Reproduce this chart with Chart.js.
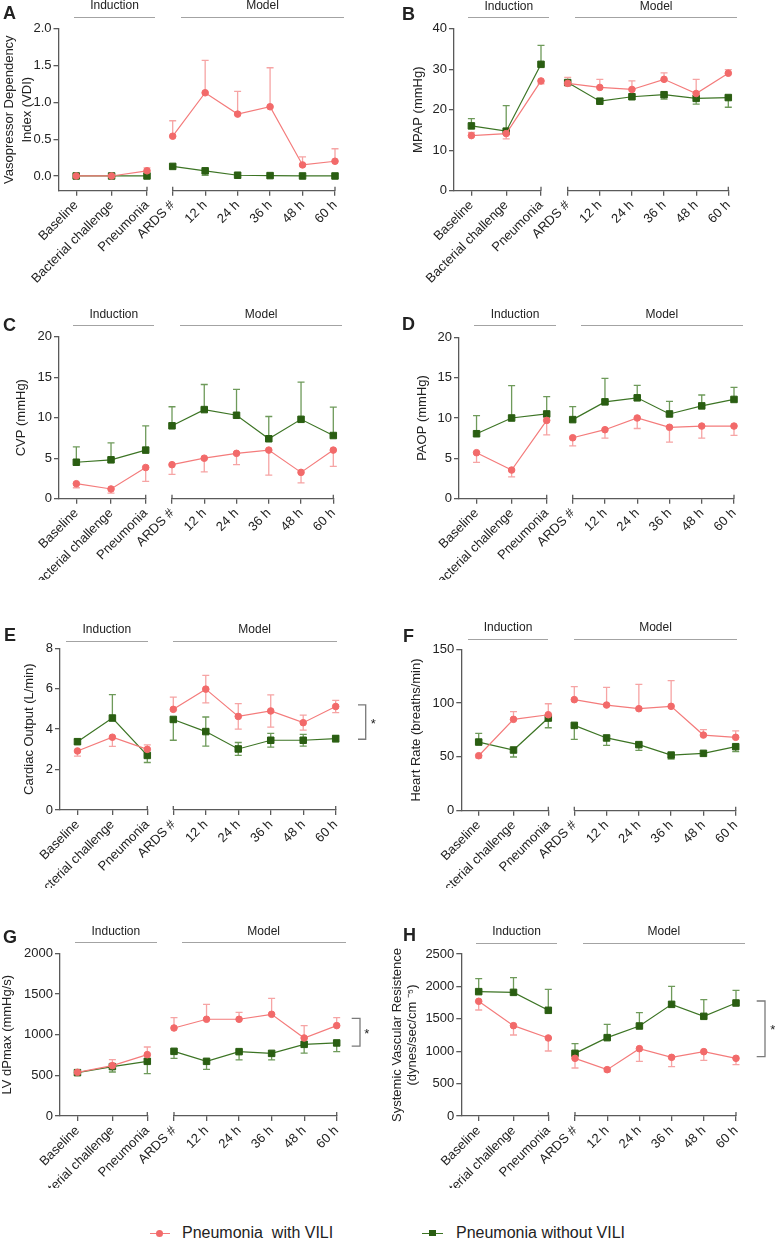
<!DOCTYPE html>
<html>
<head>
<meta charset="utf-8">
<script src="https://cdn.jsdelivr.net/npm/chart.js@4.4.1/dist/chart.umd.min.js"></script>
<style>
  body { margin: 0; background: #fff; }
  #page { position: relative; width: 775px; height: 1240px; overflow: hidden;
          font-family: 'Liberation Sans', Arial, sans-serif; color: #222; background: #fff; }
  .box { position: absolute; }
  .box canvas { position: absolute; left: 0; top: 0; }
  .letter { position: absolute; font-weight: bold; font-size: 18px; line-height: 18px; }
  .head { position: absolute; font-size: 12px; line-height: 14px; text-align: center; }
  .rule { position: absolute; height: 0; border-top: 1.5px solid #a3a3a3; }
  .leg { position: absolute; font-size: 16px; line-height: 18px; white-space: pre; }
</style>
</head>
<body>
<div id="page"></div>
<script>
// categories on the broken x axis
const induction = ['Baseline', 'Bacterial challenge', 'Pneumonia'];
const model = ['ARDS #', '12 h', '24 h', '36 h', '48 h', '60 h'];

// A - Vasopressor Dependency Index (mean, error above, error below)
const vdiWith        = [0, 0, 0.07, 0.54, 1.13, 0.84, 0.94, 0.15, 0.20];
const vdiWithUp      = [0, 0, 0.04, 0.21, 0.44, 0.31, 0.53, 0.11, 0.17];
const vdiWithDown    = [0, 0, 0, 0, 0, 0, 0, 0, 0];
const vdiWithout     = [0, 0, 0, 0.13, 0.07, 0.01, 0.005, 0, 0];
const vdiWithoutUp   = [0, 0, 0, 0, 0, 0, 0, 0, 0];
const vdiWithoutDown = [0, 0, 0, 0, 0.06, 0, 0, 0, 0];
const vdiTicks = [0, 0.5, 1, 1.5, 2];

// B - MPAP
const mpapWith        = [13.6, 14.1, 27.1, 26.5, 25.5, 25.0, 27.5, 24.0, 29.0];
const mpapWithUp      = [0.8, 0, 0, 1.5, 2.0, 2.1, 1.6, 3.5, 0.9];
const mpapWithDown    = [0, 1.3, 0.7, 0, 0, 0, 0, 0, 0];
const mpapWithout     = [16.0, 14.7, 31.2, 26.7, 22.1, 23.2, 23.7, 22.8, 23.0];
const mpapWithoutUp   = [1.8, 6.3, 4.7, 0, 0, 0, 0, 0, 0];
const mpapWithoutDown = [0, 0, 0, 0, 0, 0, 1.1, 1.4, 2.4];
const mpapTicks = [0, 10, 20, 30, 40];

// C - CVP
const cvpWith        = [1.85, 1.2, 3.85, 4.2, 5.0, 5.6, 6.0, 3.25, 6.0];
const cvpWithUp      = [0, 0, 0, 0, 0, 0, 0, 0, 0];
const cvpWithDown    = [0.5, 0.5, 1.7, 1.2, 1.7, 1.4, 3.1, 1.3, 2.0];
const cvpWithout     = [4.5, 4.8, 6.0, 9.0, 11.0, 10.3, 7.4, 9.8, 7.8];
const cvpWithoutUp   = [1.9, 2.1, 3.0, 2.35, 3.1, 3.2, 2.75, 4.6, 3.5];
const cvpWithoutDown = [0, 0, 0, 0, 0, 0, 0, 0, 0];
const cvpTicks = [0, 5, 10, 15, 20];

// D - PAOP
const paopWith        = [5.7, 3.55, 9.7, 7.55, 8.55, 10.0, 8.85, 9.0, 9.0];
const paopWithUp      = [0, 0, 0, 0, 0, 0, 0, 0, 0];
const paopWithDown    = [1.2, 0.85, 1.8, 1.0, 1.05, 1.3, 1.85, 1.5, 1.15];
const paopWithout     = [8.05, 10.0, 10.5, 9.8, 12.0, 12.5, 10.5, 11.5, 12.3];
const paopWithoutUp   = [2.25, 4.0, 2.15, 1.6, 2.9, 1.55, 1.55, 1.35, 1.5];
const paopWithoutDown = [0, 0, 0, 0, 0, 0, 0, 0, 0];
const paopTicks = [0, 5, 10, 15, 20];

// E - Cardiac output
const coWith        = [2.92, 3.6, 3.0, 4.98, 5.98, 4.63, 4.9, 4.32, 5.12];
const coWithUp      = [0, 0, 0.22, 0.6, 0.68, 0.63, 0.8, 0.37, 0.3];
const coWithDown    = [0.25, 0.45, 0, 0, 0.68, 0.63, 0.8, 0.37, 0.3];
const coWithout     = [3.38, 4.55, 2.7, 4.48, 3.88, 3.02, 3.45, 3.45, 3.53];
const coWithoutUp   = [0.12, 1.16, 0, 0, 0.72, 0.32, 0.34, 0.29, 0.16];
const coWithoutDown = [0.12, 0, 0.35, 1.03, 0.72, 0.32, 0.34, 0.29, 0.16];
const coTicks = [0, 2, 4, 6, 8];
const coBracket = [5.2, 3.5];

// F - Heart rate
const hrWith        = [51.1, 84.9, 89.2, 103.2, 98.2, 94.8, 97.0, 70.3, 68.2];
const hrWithUp      = [0, 7.1, 10.2, 12.1, 16.4, 22.6, 23.9, 5.0, 5.9];
const hrWithDown    = [2, 0, 0, 0, 0, 0, 0, 0, 0];
const hrWithout     = [63.8, 56.4, 86.1, 79.3, 67.6, 61.4, 51.7, 53.3, 59.5];
const hrWithoutUp   = [8.1, 0, 0, 0, 0, 0, 0, 0, 0];
const hrWithoutDown = [0, 6.5, 9.0, 13.0, 6.8, 5.3, 3.7, 0, 4.6];
const hrTicks = [0, 50, 100, 150];

// G - LV dPmax
const lvWith        = [537, 619, 754, 1082, 1189, 1189, 1250, 959, 1111];
const lvWithUp      = [0, 74, 94, 127, 184, 86, 197, 152, 98];
const lvWithDown    = [0, 0, 0, 0, 0, 0, 0, 0, 0];
const lvWithout     = [533, 607, 672, 795, 672, 791, 770, 881, 898];
const lvWithoutUp   = [0, 0, 0, 0, 0, 0, 0, 0, 0];
const lvWithoutDown = [0, 66, 152, 86, 98, 102, 81, 107, 107];
const lvTicks = [0, 500, 1000, 1500, 2000];
const lvBracket = [1200, 860];

// H - Systemic vascular resistence
const svrWith        = [1770, 1394, 1204, 890, 715, 1039, 905, 993, 890];
const svrWithUp      = [0, 0, 0, 0, 0, 0, 0, 0, 0];
const svrWithDown    = [134, 144, 201, 149, 31, 195, 144, 134, 98];
const svrWithout     = [1919, 1908, 1631, 967, 1209, 1389, 1723, 1538, 1744];
const svrWithoutUp   = [200, 227, 324, 149, 206, 206, 278, 257, 195];
const svrWithoutDown = [0, 0, 0, 0, 0, 0, 0, 0, 0];
const svrTicks = [0, 500, 1000, 1500, 2000, 2500];
const svrBracket = [1775, 915];

const FONT = "'Liberation Sans', Arial, sans-serif";
const RED = '#f26a6a', RED_LINE = '#f47b7b', RED_ERR = '#f6a4a4';
const GREEN = '#2a5e12', GREEN_LINE = '#3c7424', GREEN_ERR = '#6e9a5a';
const AXIS = '#5a5a5a';

Chart.defaults.font.family = FONT;
Chart.defaults.color = '#222';

const rowTop = [0, 300, 600, 900];
const rowCut = [283, 580, 888, 1188];

const panels = [
  { key: 'A', col: 0, row: 0, title: ['Vasopressor Dependency', 'Index (VDI)'], lh: 18, titleX: 9,
    min: -0.2, max: 2, ticks: vdiTicks, dec: 1, yTop: 28.7, yBottom: 190.7, axisX: 58.5,
    indEnd: 147, modStart: 172.7, modEnd: 335, rule: 17.3, indRule: [74, 155], modRule: [181, 344],
    letter: [3, 6], red: [vdiWith, vdiWithUp, vdiWithDown], green: [vdiWithout, vdiWithoutUp, vdiWithoutDown] },
  { key: 'B', col: 1, row: 0, title: 'MPAP (mmHg)', lh: 15.6, titleX: 418,
    min: 0, max: 40, ticks: mpapTicks, dec: 0, yTop: 28.7, yBottom: 190.7, axisX: 454,
    indEnd: 541, modStart: 567.7, modEnd: 728.3, rule: 18, indRule: [468.3, 549.3], modRule: [575, 737.3],
    letter: [402, 7], red: [mpapWith, mpapWithUp, mpapWithDown], green: [mpapWithout, mpapWithoutUp, mpapWithoutDown] },
  { key: 'C', col: 0, row: 1, title: 'CVP (mmHg)', lh: 15.6, titleX: 21,
    min: 0, max: 20, ticks: cvpTicks, dec: 0, yTop: 336.7, yBottom: 498.7, axisX: 59,
    indEnd: 145.7, modStart: 172, modEnd: 333.3, rule: 325.7, indRule: [73.3, 154.3], modRule: [180, 342.3],
    letter: [3, 318], red: [cvpWith, cvpWithUp, cvpWithDown], green: [cvpWithout, cvpWithoutUp, cvpWithoutDown] },
  { key: 'D', col: 1, row: 1, title: 'PAOP (mmHg)', lh: 15.6, titleX: 422.5,
    min: 0, max: 20, ticks: paopTicks, dec: 0, yTop: 337.3, yBottom: 498.7, axisX: 459,
    indEnd: 546.7, modStart: 572.7, modEnd: 734, rule: 326, indRule: [474.3, 555.7], modRule: [581, 742.7],
    letter: [402, 317], red: [paopWith, paopWithUp, paopWithDown], green: [paopWithout, paopWithoutUp, paopWithoutDown] },
  { key: 'E', col: 0, row: 2, title: 'Cardiac Output (L/min)', lh: 15.6, titleX: 29.5,
    min: 0, max: 8, ticks: coTicks, dec: 0, yTop: 648.3, yBottom: 810, axisX: 60,
    indEnd: 147.3, modStart: 173.3, modEnd: 335.7, rule: 641.3, indRule: [66, 147.7], modRule: [172.7, 336.7],
    letter: [4, 628], red: [coWith, coWithUp, coWithDown], green: [coWithout, coWithoutUp, coWithoutDown],
    bracket: coBracket, bx: [22.3, 30, 37.5] },
  { key: 'F', col: 1, row: 2, title: 'Heart Rate (breaths/min)', lh: 15.6, titleX: 416,
    min: 0, max: 150, ticks: hrTicks, dec: 0, yTop: 649.3, yBottom: 810.7, axisX: 461.3,
    indEnd: 548.3, modStart: 574.3, modEnd: 735.7, rule: 639.3, indRule: [467.7, 548.3], modRule: [574.3, 736.7],
    letter: [403, 629], red: [hrWith, hrWithUp, hrWithDown], green: [hrWithout, hrWithoutUp, hrWithoutDown] },
  { key: 'G', col: 0, row: 3, title: 'LV dPmax (mmHg/s)', lh: 15.6, titleX: 7.8,
    min: 0, max: 2000, ticks: lvTicks, dec: 0, yTop: 953.3, yBottom: 1116, axisX: 60,
    indEnd: 147.3, modStart: 174, modEnd: 336.7, rule: 942.7, indRule: [75, 156.7], modRule: [181.7, 345.7],
    letter: [3, 930], red: [lvWith, lvWithUp, lvWithDown], green: [lvWithout, lvWithoutUp, lvWithoutDown],
    bracket: lvBracket, bx: [15, 23.3, 30] },
  { key: 'H', col: 1, row: 3, title: ['Systemic Vascular Resistence', '(dynes/sec/cm \u207B\u2075)'], lh: 15, titleX: 397.5,
    min: 0, max: 2500, ticks: svrTicks, dec: 0, yTop: 954, yBottom: 1116, axisX: 461.3,
    indEnd: 548.3, modStart: 575, modEnd: 736, rule: 943.3, indRule: [475.7, 557.3], modRule: [582.7, 745],
    letter: [403, 928], red: [svrWith, svrWithUp, svrWithDown], green: [svrWithout, svrWithoutUp, svrWithoutDown],
    bracket: svrBracket, bx: [20.7, 29, 36.7] }
];

// error bars drawn from the dataset's own up/down extents
const errorBarPlugin = {
  id: 'errorBars',
  beforeDatasetsDraw(chart) {
    const { ctx, scales: { x, y } } = chart;
    chart.data.datasets.forEach(ds => {
      const eb = ds.errorBars;
      if (!eb) return;
      ctx.save();
      ctx.strokeStyle = eb.color;
      ctx.lineWidth = 1.3;
      ds.data.forEach((p, k) => {
        const px = x.getPixelForValue(p.x);
        const py0 = y.getPixelForValue(p.y);
        [[eb.up[k], 1], [eb.down[k], -1]].forEach(([e, s]) => {
          if (!e) return;
          const py1 = y.getPixelForValue(p.y + s * e);
          ctx.beginPath();
          ctx.moveTo(px, py0); ctx.lineTo(px, py1);
          ctx.moveTo(px - 3.5, py1); ctx.lineTo(px + 3.5, py1);
          ctx.stroke();
        });
      });
      ctx.restore();
    });
  }
};

// GraphPad style end ticks that poke above the x axis
function axisCaps(ends) {
  return {
    id: 'axisCaps',
    afterDraw(chart) {
      const { ctx, chartArea, scales: { x } } = chart;
      ctx.save();
      ctx.strokeStyle = AXIS;
      ctx.lineWidth = 1.3;
      ends.forEach(v => {
        const px = x.getPixelForValue(v);
        ctx.beginPath();
        ctx.moveTo(px, chartArea.bottom - 4);
        ctx.lineTo(px, chartArea.bottom);
        ctx.stroke();
      });
      ctx.restore();
    }
  };
}

// significance bracket with a star, right of the model segment
function sigBracket(values, bx) {
  return {
    id: 'sigBracket',
    afterDraw(chart) {
      const { ctx, chartArea, scales: { y } } = chart;
      const x1 = chartArea.right + bx[0], x2 = chartArea.right + bx[1];
      const y1 = y.getPixelForValue(values[0]), y2 = y.getPixelForValue(values[1]);
      ctx.save();
      ctx.strokeStyle = '#7a7a7a';
      ctx.lineWidth = 1.3;
      ctx.beginPath();
      ctx.moveTo(x1, y1); ctx.lineTo(x2, y1); ctx.lineTo(x2, y2); ctx.lineTo(x1, y2);
      ctx.stroke();
      ctx.fillStyle = '#222';
      ctx.font = '13px ' + FONT;
      ctx.textAlign = 'center';
      ctx.textBaseline = 'middle';
      ctx.fillText('*', chartArea.right + bx[2], (y1 + y2) / 2 + 2);
      ctx.restore();
    }
  };
}

function series(vals, idx, offset) {
  return idx.map(i => ({ x: i - offset, y: vals[i] }));
}

function buildConfig(p, part, cLeft, cTop, cW, cH) {
  const isInd = part === 'induction';
  const labels = isInd ? induction : model;
  const idx = isInd ? [0, 1, 2] : [3, 4, 5, 6, 7, 8];
  const offset = isInd ? 0 : 3;
  const boxLeft = p.titleX - p.lh / 2;
  const padding = isInd
    ? { left: boxLeft - cLeft, right: cLeft + cW - p.indEnd, top: p.yTop - cTop, bottom: 0 }
    : { left: p.modStart - cLeft, right: cLeft + cW - p.modEnd, top: p.yTop - cTop, bottom: 0 };
  const xh = cTop + cH - p.yBottom;
  const yw = isInd ? p.axisX - boxLeft : 0;

  const plugins = [errorBarPlugin, axisCaps(isInd ? [2] : [0, 5])];
  if (!isInd && p.bracket) plugins.push(sigBracket(p.bracket, p.bx));

  return {
    type: 'line',
    data: {
      datasets: [
        { label: 'Pneumonia with VILI', data: series(p.red[0], idx, offset),
          borderColor: RED_LINE, backgroundColor: RED, pointBackgroundColor: RED, pointBorderColor: RED,
          borderWidth: 1.2, pointStyle: 'circle', pointRadius: 3.3, pointBorderWidth: 1, clip: false,
          errorBars: { up: idx.map(i => p.red[1][i]), down: idx.map(i => p.red[2][i]), color: RED_ERR } },
        { label: 'Pneumonia without VILI', data: series(p.green[0], idx, offset),
          borderColor: GREEN_LINE, backgroundColor: GREEN, pointBackgroundColor: GREEN, pointBorderColor: GREEN,
          borderWidth: 1.2, pointStyle: 'rect', pointRadius: 4.6, pointBorderWidth: 1, clip: false,
          errorBars: { up: idx.map(i => p.green[1][i]), down: idx.map(i => p.green[2][i]), color: GREEN_ERR } }
      ]
    },
    options: {
      responsive: false,
      animation: false,
      events: [],
      layout: { padding },
      plugins: { legend: { display: false }, tooltip: { enabled: false } },
      scales: {
        x: {
          type: 'linear', min: isInd ? -0.5 : 0, max: isInd ? 2 : 5, bounds: 'data',
          afterBuildTicks: s => { s.ticks = labels.map((_, i) => ({ value: i })); },
          afterFit: s => { s.height = xh; s.paddingLeft = 0; s.paddingRight = 0; },
          ticks: { callback: (v, i) => labels[i], autoSkip: false, maxRotation: 45, minRotation: 45,
                   font: { size: 13 }, color: '#222', padding: 2 },
          grid: { drawOnChartArea: false, drawTicks: true, tickLength: 5, color: AXIS, lineWidth: 1.3 },
          border: { display: true, color: AXIS, width: 1.3 }
        },
        y: {
          display: isInd, min: p.min, max: p.max, bounds: 'data',
          afterBuildTicks: s => { s.ticks = p.ticks.map(v => ({ value: v })); },
          afterFit: s => { s.width = yw; s.paddingTop = 0; s.paddingBottom = 0; },
          ticks: { callback: v => v.toFixed(p.dec), font: { size: 13 }, color: '#222', padding: 2 },
          grid: { drawOnChartArea: false, drawTicks: true, tickLength: 5, color: AXIS, lineWidth: 1.3 },
          border: { display: true, color: AXIS, width: 1.3 },
          title: { display: true, text: p.title, color: '#222', padding: 0,
                   font: { size: 13, lineHeight: p.lh / 13 } }
        }
      }
    },
    plugins
  };
}

const page = document.getElementById('page');

function addDiv(cls, css, text) {
  const d = document.createElement('div');
  d.className = cls;
  Object.assign(d.style, css);
  if (text) d.textContent = text;
  page.appendChild(d);
  return d;
}

panels.forEach(p => {
  const cLeft = p.col ? 385 : 0, cW = p.col ? 390 : 385;
  const cTop = rowTop[p.row], cH = rowCut[p.row] - cTop;
  const box = addDiv('box', { left: cLeft + 'px', top: cTop + 'px', width: cW + 'px', height: cH + 'px' });
  ['induction', 'model'].forEach(part => {
    const cv = document.createElement('canvas');
    cv.width = cW; cv.height = cH;
    box.appendChild(cv);
    new Chart(cv, buildConfig(p, part, cLeft, cTop, cW, cH));
  });
  [[p.indRule, 'Induction'], [p.modRule, 'Model']].forEach(([r, txt]) => {
    addDiv('rule', { left: r[0] + 'px', top: (p.rule - 0.75) + 'px', width: (r[1] - r[0]) + 'px' });
    addDiv('head', { left: r[0] + 'px', top: (p.rule - 19) + 'px', width: (r[1] - r[0]) + 'px' }, txt);
  });
  addDiv('letter', { left: p.letter[0] + 'px', top: (p.letter[1] - 2.5) + 'px' }, p.key);
});

// legend
addDiv('', { position: 'absolute', left: '150px', top: '1232.5px', width: '20px', height: '1.3px', background: RED_LINE });
addDiv('', { position: 'absolute', left: '156px', top: '1229.7px', width: '7px', height: '7px', borderRadius: '50%', background: RED });
addDiv('leg', { left: '182px', top: '1224px' }, 'Pneumonia  with VILI');
addDiv('', { position: 'absolute', left: '421.7px', top: '1232.5px', width: '21.6px', height: '1.3px', background: GREEN_LINE });
addDiv('', { position: 'absolute', left: '429.3px', top: '1229.9px', width: '6.5px', height: '6.5px', background: GREEN });
addDiv('leg', { left: '456px', top: '1224px' }, 'Pneumonia without VILI');
</script>
</body>
</html>
